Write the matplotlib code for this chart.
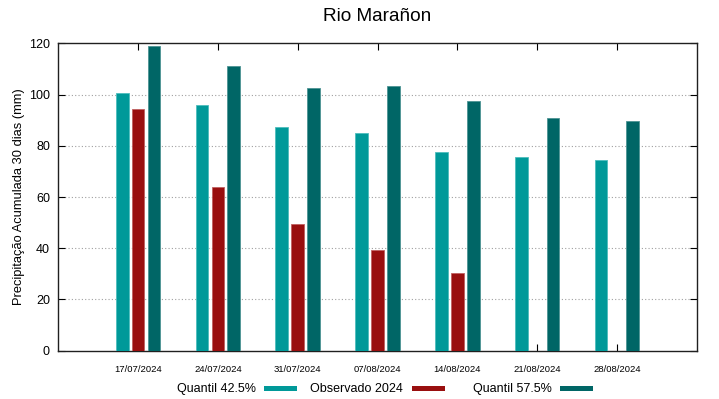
import matplotlib
matplotlib.use("Agg")
import matplotlib.pyplot as plt
from matplotlib.patches import Rectangle
import numpy as np

plt.rcParams['font.family'] = ['Liberation Sans', 'DejaVu Sans']

dates = ["17/07/2024", "24/07/2024", "31/07/2024", "07/08/2024",
         "14/08/2024", "21/08/2024", "28/08/2024"]
q425 = [100.5, 95.8, 87.3, 84.8, 77.7, 75.6, 74.6]
obs2024 = [94.2, 63.8, 49.5, 39.3, 30.3, np.nan, np.nan]
q575 = [118.8, 111.0, 102.7, 103.3, 97.6, 90.8, 89.7]

labels = ["Quantil 42.5%", "Observado 2024", "Quantil 57.5%"]
colors = ["#009999", "#990f0f", "#006666"]
edges = ["#4dbdbd", "#c06060", "#4d9494"]

W, H = 719, 399
fig = plt.figure(figsize=(W / 100, H / 100), dpi=100)
ax = fig.add_axes([58.3 / W, 1 - 350.7 / H, (696.7 - 58.3) / W, (350.7 - 43.3) / H])

x = np.arange(len(dates))
width = 0.16
offsets = [-0.2, 0.0, 0.2]
for vals, off, c, e in zip([q425, obs2024, q575], offsets, colors, edges):
    ax.bar(x + off, vals, width, color=c, edgecolor=e, linewidth=0.6, zorder=3)

ax.set_xlim(-1, 7)
ax.set_ylim(0, 120)
ax.set_yticks([0, 20, 40, 60, 80, 100, 120])
ax.set_xticks(x)
ax.set_xticklabels(dates, fontsize=6.8)
ax.tick_params(axis='y', labelsize=9, direction='in', length=5, right=True, pad=6)
ax.tick_params(axis='x', direction='in', length=5, top=True, pad=10)
for yv in [20, 40, 60, 80, 100]:
    ax.axhline(yv, color='#a0a0a0', linestyle=(0, (1, 2)), linewidth=0.8, zorder=1)
for s in ax.spines.values():
    s.set_linewidth(1.0)
    s.set_color('#202020')

ax.set_ylabel("Precipitação Acumulada 30 dias (mm)", fontsize=9.3, labelpad=3)
fig.text(377.5 / W, 1 - 16.5 / H, "Rio Marañon", fontsize=13.7, ha='center', va='center')

# legend (text followed by sample)
text_right = [256, 403, 552]
sample_left = [264, 412, 560]
for lab, tr, sl, c in zip(labels, text_right, sample_left, colors):
    fig.text(tr / W, 1 - 392 / H, lab, fontsize=9, ha='right', va='baseline')
    fig.add_artist(Rectangle((sl / W, 1 - 391 / H), 33 / W, 5 / H,
                             transform=fig.transFigure, facecolor=c, edgecolor='none'))

fig.savefig("out.png", dpi=100)
